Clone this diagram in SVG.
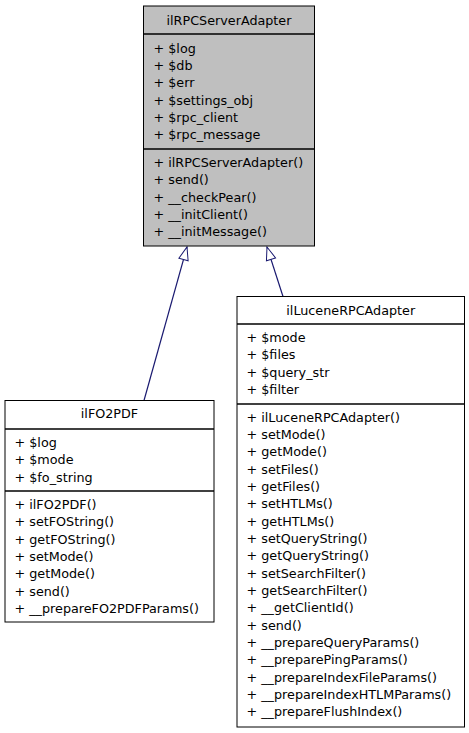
<svg xmlns="http://www.w3.org/2000/svg" width="469" height="733" viewBox="0 0 469 733">
<defs>
<marker id="inh" markerUnits="userSpaceOnUse" markerWidth="16" markerHeight="12" viewBox="-1 -6 16 12" refX="13" refY="0" orient="auto">
<path d="M0,-4.8 L13,0 L0,4.8 Z" fill="#ffffff" stroke="#191970" stroke-width="1"/>
</marker>
</defs>
<style>
text{font-family:"DejaVu Sans","Noto Sans",sans-serif;font-size:12.75px;fill:#000}
.h{text-anchor:middle}
.box{stroke:#000;stroke-width:1}
.sep{stroke:#000;stroke-width:1.3}
.edge{fill:none;stroke:#191970;stroke-width:1.2}
</style>
<rect width="469" height="733" fill="#ffffff"/>
<g id="connectors">
<path class="edge" d="M144,400.5 L187,247" marker-end="url(#inh)"/>
<path class="edge" d="M283,296.5 L267,247" marker-end="url(#inh)"/>
</g>
<g id="ilRPCServerAdapter">
<rect class="box" x="143.5" y="6" width="171" height="240" fill="#bfbfbf"/>
<line class="sep" x1="143.5" y1="34" x2="314.5" y2="34"/>
<line class="sep" x1="143.5" y1="149" x2="314.5" y2="149"/>
<text class="h" x="229" y="24.5">ilRPCServerAdapter</text>
<text x="153.5" y="52.5">+ $log</text>
<text x="153.5" y="69.85">+ $db</text>
<text x="153.5" y="87.2">+ $err</text>
<text x="153.5" y="104.55">+ $settings_obj</text>
<text x="153.5" y="121.9">+ $rpc_client</text>
<text x="153.5" y="139.25">+ $rpc_message</text>
<text x="153.5" y="167">+ ilRPCServerAdapter()</text>
<text x="153.5" y="184.35">+ send()</text>
<text x="153.5" y="201.7">+ __checkPear()</text>
<text x="153.5" y="219.05">+ __initClient()</text>
<text x="153.5" y="236.4">+ __initMessage()</text>
</g>
<g id="ilFO2PDF">
<rect class="box" x="5" y="400.5" width="209" height="221.5" fill="#ffffff"/>
<line class="sep" x1="5" y1="429" x2="214" y2="429"/>
<line class="sep" x1="5" y1="491" x2="214" y2="491"/>
<text class="h" x="109.5" y="418">ilFO2PDF</text>
<text x="14.5" y="447">+ $log</text>
<text x="14.5" y="464.35">+ $mode</text>
<text x="14.5" y="481.7">+ $fo_string</text>
<text x="14.5" y="509">+ ilFO2PDF()</text>
<text x="14.5" y="526.35">+ setFOString()</text>
<text x="14.5" y="543.7">+ getFOString()</text>
<text x="14.5" y="561.05">+ setMode()</text>
<text x="14.5" y="578.4">+ getMode()</text>
<text x="14.5" y="595.75">+ send()</text>
<text x="14.5" y="613.1">+ __prepareFO2PDFParams()</text>
</g>
<g id="ilLuceneRPCAdapter">
<rect class="box" x="237" y="296.5" width="227.5" height="430.5" fill="#ffffff"/>
<line class="sep" x1="237" y1="324" x2="464.5" y2="324"/>
<line class="sep" x1="237" y1="404" x2="464.5" y2="404"/>
<text class="h" x="350.75" y="314.5">ilLuceneRPCAdapter</text>
<text x="246.5" y="342">+ $mode</text>
<text x="246.5" y="359.35">+ $files</text>
<text x="246.5" y="376.7">+ $query_str</text>
<text x="246.5" y="394.05">+ $filter</text>
<text x="246.5" y="421.5">+ ilLuceneRPCAdapter()</text>
<text x="246.5" y="438.85">+ setMode()</text>
<text x="246.5" y="456.2">+ getMode()</text>
<text x="246.5" y="473.55">+ setFiles()</text>
<text x="246.5" y="490.9">+ getFiles()</text>
<text x="246.5" y="508.25">+ setHTLMs()</text>
<text x="246.5" y="525.6">+ getHTLMs()</text>
<text x="246.5" y="542.95">+ setQueryString()</text>
<text x="246.5" y="560.3">+ getQueryString()</text>
<text x="246.5" y="577.65">+ setSearchFilter()</text>
<text x="246.5" y="595">+ getSearchFilter()</text>
<text x="246.5" y="612.35">+ __getClientId()</text>
<text x="246.5" y="629.7">+ send()</text>
<text x="246.5" y="647.05">+ __prepareQueryParams()</text>
<text x="246.5" y="664.4">+ __preparePingParams()</text>
<text x="246.5" y="681.75">+ __prepareIndexFileParams()</text>
<text x="246.5" y="699.1">+ __prepareIndexHTLMParams()</text>
<text x="246.5" y="716.45">+ __prepareFlushIndex()</text>
</g>
</svg>
